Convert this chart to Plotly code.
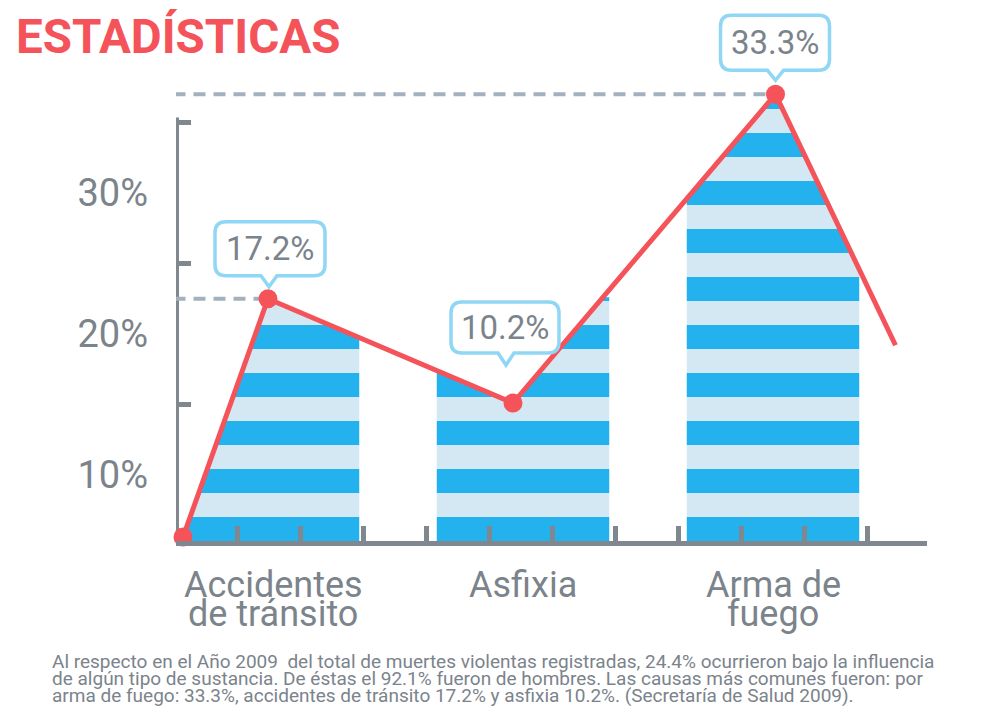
import numpy as np
import plotly.graph_objects as go

# ---------------- datos ----------------
categorias = ["Accidentes<br>de tránsito", "Asfixia", "Arma de<br>fuego"]
porcentajes = [17.2, 10.2, 33.3]            # valores rotulados en los globos
posicion_x = [0, 1, 2]                       # posición de cada barra
altura_barra = [22.6, 22.6, 37.0]            # alto de cada barra rayada (escala del eje)
punto_x = [-0.02, 0.96, 2.01]                # vértices de la línea roja
punto_y = [22.5, 15.1, 37.0]
linea_x = [-0.36, -0.02, 0.96, 2.01, 2.49]   # línea completa (inicio, puntos, final)
linea_y = [5.6, 22.5, 15.1, 37.0, 19.2]
ticks_y = [10, 20, 30]
ticks_y_texto = ["10%", "20%", "30%"]
ticks_menores_y = [15, 25, 35]
lineas_guia = [0, 2]                         # puntos con línea punteada hacia el eje
titulo = "ESTADÍSTICAS"
nota = [
    "Al respecto en el Año 2009  del total de muertes violentas registradas, 24.4% ocurrieron bajo la influencia",
    "de algún tipo de sustancia. De éstas el 92.1% fueron de hombres. Las causas más comunes fueron: por",
    "arma de fuego: 33.3%, accidentes de tránsito 17.2% y asfixia 10.2%. (Secretaría de Salud 2009).",
]

# ---------------- estilo / layout ----------------
FIG_W, FIG_H = 981, 720
L, R, T, B = 176, 927, 8, 541
PPU_X, PPU_Y = 250.0, 14.1
xmin, xmax = (L - 273) / PPU_X, (R - 273) / PPU_X
ymin, ymax = 10 - (B - 475) / PPU_Y, 10 + (475 - T) / PPU_Y
ancho = 0.69
banda = 24 / PPU_Y

ROJO = "#f5535a"
AZUL = "#23b2ee"
CELESTE = "#d3e8f3"
GRIS = "#80878f"
TEXTO = "#7b838b"
BORDE = "#90d6f5"
GUIA = "#a3b1bf"
FONT = "Roboto"

# globos: caja (x izq, x der, y abajo, y arriba) y punta (x, y), px relativos al punto, y hacia arriba
globos = [
    dict(caja=(-53, 57, 23, 77), punta=(1, 12)),
    dict(caja=(-62, 46, 50, 101), punta=(-7, 38)),
    dict(caja=(-55, 54, 24, 79), punta=(0, 14)),
]


def linea_en(x):
    return float(np.interp(x, linea_x, linea_y))


def cruces(nivel, x0, x1):
    out = []
    for i in range(len(linea_x) - 1):
        xa, xb = linea_x[i], linea_x[i + 1]
        ya, yb = linea_y[i], linea_y[i + 1]
        if ya == yb:
            continue
        t = (nivel - ya) / (yb - ya)
        if 0 < t < 1:
            xc = xa + t * (xb - xa)
            if x0 < xc < x1:
                out.append(xc)
    return out


poligonos = {0: ([], []), 1: ([], [])}
for c, xc in enumerate(posicion_x):
    x0, x1 = xc - ancho / 2, xc + ancho / 2
    k = 0
    while True:
        b = ymin + k * banda
        if b >= altura_barra[c]:
            break
        t = min(b + banda, altura_barra[c])
        bps = {x0, x1}
        bps.update(v for v in linea_x if x0 < v < x1)
        bps.update(cruces(b, x0, x1))
        bps.update(cruces(t, x0, x1))
        bps = sorted(bps)
        tops = [min(max(linea_en(x), b), t) for x in bps]
        if max(tops) > b + 1e-9:
            xs = [x0, x1] + bps[::-1]
            ys = [b, b] + tops[::-1]
            px_, py_ = poligonos[k % 2]
            px_ += xs + [None]
            py_ += ys + [None]
        k += 1

fig = go.Figure()
for k, color in ((1, CELESTE), (0, AZUL)):
    fig.add_trace(go.Scatter(
        x=poligonos[k][0], y=poligonos[k][1], mode="lines", fill="toself",
        fillcolor=color, line=dict(width=0, color=color), hoverinfo="skip",
        showlegend=False,
    ))

fig.add_trace(go.Scatter(
    x=linea_x, y=linea_y, mode="lines", line=dict(color=ROJO, width=5),
    hoverinfo="skip", showlegend=False, cliponaxis=False,
))
fig.add_trace(go.Scatter(
    x=[linea_x[0]] + punto_x, y=[linea_y[0]] + punto_y, mode="markers",
    marker=dict(color=ROJO, size=19), hoverinfo="skip", showlegend=False,
    cliponaxis=False,
))

shapes = []
# eje vertical
shapes.append(dict(type="line", xref="x", yref="y", x0=xmin, x1=xmin, y0=ymin, y1=35.35,
                   line=dict(color=GRIS, width=6), layer="below"))
# líneas guía punteadas
for i in lineas_guia:
    shapes.append(dict(type="line", xref="x", yref="y", x0=xmin - 0.01, x1=punto_x[i],
                       y0=punto_y[i], y1=punto_y[i],
                       line=dict(color=GUIA, width=4, dash="12px,8px"), layer="below"))
# globos
for i, g in enumerate(globos):
    xl, xr, yb, yt = g["caja"]
    tx, ty = g["punta"]
    r, w = 11, 8
    path = (f"M{tx - w},{yb} L{xl + r},{yb} Q{xl},{yb} {xl},{yb + r} "
            f"L{xl},{yt - r} Q{xl},{yt} {xl + r},{yt} L{xr - r},{yt} Q{xr},{yt} {xr},{yt - r} "
            f"L{xr},{yb + r} Q{xr},{yb} {xr - r},{yb} L{tx + w},{yb} L{tx},{ty} Z")
    shapes.append(dict(type="path", xref="x", yref="y", xsizemode="pixel", ysizemode="pixel",
                       xanchor=punto_x[i], yanchor=punto_y[i], path=path,
                       line=dict(color=BORDE, width=3.5), fillcolor="white", layer="above"))

annotations = []
for i, g in enumerate(globos):
    xl, xr, yb, yt = g["caja"]
    annotations.append(dict(
        x=punto_x[i], y=punto_y[i], xref="x", yref="y", showarrow=False,
        text=f"{porcentajes[i]:.1f}%", xshift=(xl + xr) / 2, yshift=(yb + yt) / 2,
        font=dict(family=FONT, size=33, color=TEXTO), xanchor="center", yanchor="middle",
    ))

for i, cat in enumerate(categorias):
    for j, parte in enumerate(cat.split("<br>")):
        annotations.append(dict(
            x=posicion_x[i], y=0, xref="x", yref="paper", showarrow=False, text=parte,
            xanchor="center", yanchor="middle", yshift=-(44 + 29 * j),
            font=dict(family=FONT, size=36, color=TEXTO),
        ))

def paper_x(px):
    return (px - L) / (R - L)

def paper_y(py):
    return (B - py) / (B - T)

annotations.append(dict(
    x=paper_x(14), y=paper_y(37), xref="paper", yref="paper", showarrow=False,
    text=titulo, xanchor="left", yanchor="middle",
    font=dict(family=FONT, size=47.5, color=ROJO, weight=700),
))
for j, linea in enumerate(nota):
    annotations.append(dict(
        x=paper_x(50), y=paper_y(661 + 17 * j), xref="paper", yref="paper", showarrow=False,
        text=linea, xanchor="left", yanchor="middle",
        font=dict(family=FONT, size=19, color=TEXTO),
    ))

fig.update_layout(
    width=FIG_W, height=FIG_H, margin=dict(l=L, r=FIG_W - R, t=T, b=FIG_H - B),
    paper_bgcolor="white", plot_bgcolor="white", showlegend=False,
    shapes=shapes, annotations=annotations, hovermode=False,
    xaxis=dict(range=[xmin, xmax], showgrid=False, zeroline=False, showline=True,
               linewidth=5, linecolor=GRIS, ticks="inside", tickmode="linear",
               tick0=-0.144, dtick=0.252, ticklen=15, tickwidth=5, tickcolor=GRIS,
               showticklabels=False, fixedrange=True),
    yaxis=dict(range=[ymin, ymax], showgrid=False, zeroline=False, showline=False,
               tickmode="array", tickvals=ticks_y, ticktext=ticks_y_texto, ticks="",
               tickfont=dict(family=FONT, size=38, color=TEXTO), ticklabelstandoff=27,
               minor=dict(tickmode="array", tickvals=ticks_menores_y, ticks="inside",
                          ticklen=15, tickwidth=5, tickcolor=GRIS, showgrid=False),
               fixedrange=True),
)

fig.write_html("out.html")
